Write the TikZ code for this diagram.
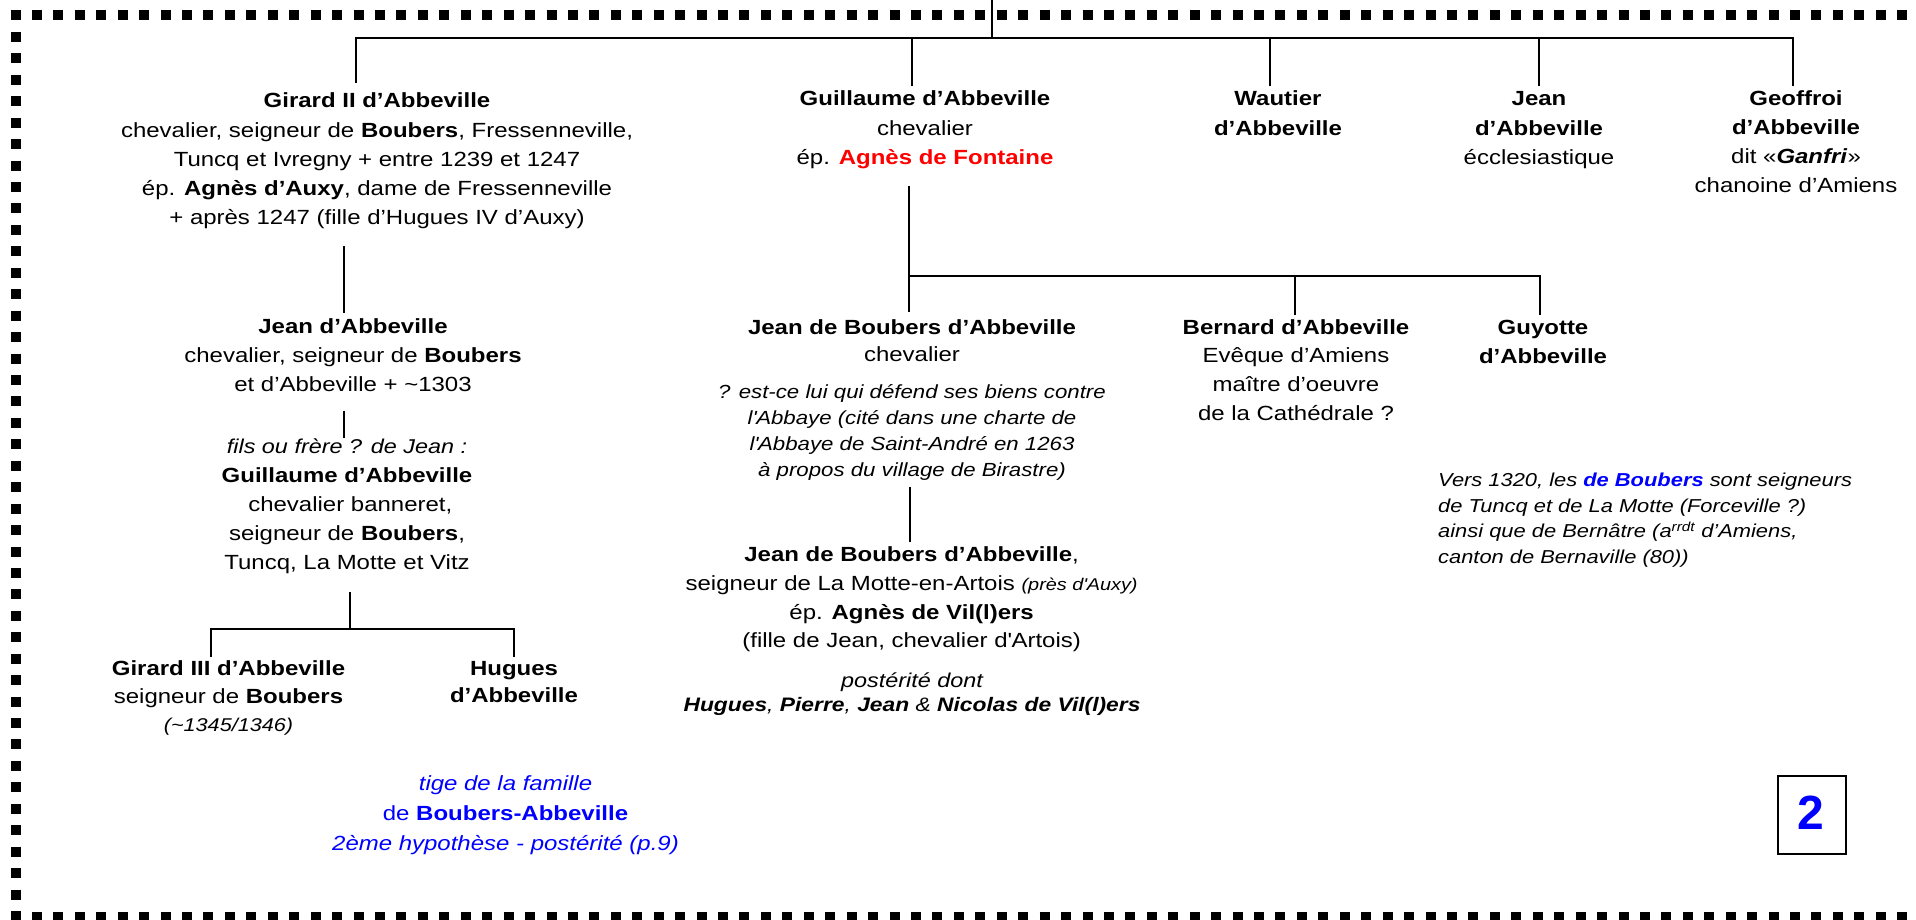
\documentclass[tikz,border=0pt]{standalone}
\usepackage{fontspec}
\setmainfont{Liberation Sans}[FakeStretch=1.17]
\newfontfamily\plainsf{Liberation Sans}
\newcommand\cstack[1]{\vtop{\halign{\hfil##\hfil\cr#1\crcr}}}
\newcommand\lstack[1]{\vtop{\halign{##\hfil\cr#1\crcr}}}
\newcommand\ap{\textquotesingle}
\definecolor{myblue}{RGB}{0,0,255}
\definecolor{myred}{RGB}{255,0,0}
\tikzset{
  txt/.style={inner sep=0pt, anchor=base, font=\fontsize{20.5}{29.2}\selectfont},
  itxt/.style={inner sep=0pt, anchor=base, font=\fontsize{19}{26}\selectfont\itshape},
  conn/.style={line width=2pt, line join=miter, line cap=butt},
  frame/.style={line width=10pt, dash pattern=on 10pt off 11.44pt},
  numbox/.style={draw, line width=2.7pt, minimum width=68pt, minimum height=78pt, inner sep=0pt}
}
\begin{document}
\begin{tikzpicture}[x=1pt,y=-1pt]
\useasboundingbox (0,0) rectangle (1916,920);
\clip (0,0) rectangle (1916,920);
% dotted frame
\draw[frame] (10.5,15.5) -- (1935,15.5);
\draw[frame] (15.5,10.5) -- (15.5,930);
\draw[frame] (10.5,917) -- (1935,917);

% ---------- generation 1 ----------
\node[txt] (g2) at (377,108) {\cstack{\textbf{Girard II d’Abbeville}\cr
chevalier, seigneur de \textbf{Boubers}, Fressenneville,\cr
Tuncq et Ivregny + entre 1239 et 1247\cr
ép. \textbf{Agnès d’Auxy}, dame de Fressenneville\cr
+ après 1247 (fille d’Hugues IV d’Auxy)}};
\node[txt] (gm) at (925,106) {\cstack{\textbf{Guillaume d’Abbeville}\cr
chevalier\cr
ép. \textcolor{myred}{\textbf{Agnès de Fontaine}}}};
\node[txt] (wa) at (1278,106) {\cstack{\textbf{Wautier}\cr\textbf{d’Abbeville}}};
\node[txt] (je) at (1539,106) {\cstack{\textbf{Jean}\cr\textbf{d’Abbeville}\cr écclesiastique}};
\node[txt, font=\fontsize{20.5}{28.7}\selectfont] (ge) at (1796,106) {\cstack{\textbf{Geoffroi}\cr\textbf{d’Abbeville}\cr
dit «\textbf{\textit{Ganfri}}»\cr chanoine d’Amiens}};

% ---------- left branch ----------
\node[txt] (j1) at (353,333) {\cstack{\textbf{Jean d’Abbeville}\cr
chevalier, seigneur de \textbf{Boubers}\cr
et d’Abbeville + \textasciitilde1303}};
\node[itxt, font=\fontsize{20}{26}\selectfont\itshape] (gfq) at (347,453) {fils ou frère ? de Jean :};
\node[txt, font=\fontsize{20.5}{29}\selectfont] (gb) at (347,482.7) {\cstack{\textbf{Guillaume d’Abbeville}\cr
\ chevalier banneret,\cr
seigneur de \textbf{Boubers},\cr
Tuncq, La Motte et Vitz}};
\node[txt, font=\fontsize{20.5}{28}\selectfont] (g3) at (228.5,675) {\cstack{\textbf{Girard III d’Abbeville}\cr
seigneur de \textbf{Boubers}\cr
{\fontsize{18.5}{22}\selectfont\itshape (\textasciitilde1345/1346)}}};
\node[txt, font=\fontsize{20.5}{27.7}\selectfont] (hu) at (514,675) {\cstack{\textbf{Hugues}\cr\textbf{d’Abbeville}}};
\node[txt, font=\fontsize{20.5}{30}\selectfont\color{myblue}] (tige) at (505.5,790) {\cstack{\textit{tige de la famille}\cr
de \textbf{Boubers-Abbeville}\cr
\textit{2ème hypothèse - postérité (p.9)}}};

% ---------- middle branch ----------
\node[txt, font=\fontsize{20.5}{27.7}\selectfont] (jb) at (912,334) {\cstack{\textbf{Jean de Boubers d’Abbeville}\cr chevalier}};
\node[itxt] (jbn) at (912,398.3) {\cstack{? est-ce lui qui défend ses biens contre\cr
l\ap Abbaye (cité dans une charte de\cr
l\ap Abbaye de Saint-André en 1263\cr
à propos du village de Birastre)}};
\node[txt, font=\fontsize{20.5}{28.7}\selectfont] (jb2) at (911.6,561.7) {\cstack{\textbf{Jean de Boubers d’Abbeville},\cr
seigneur de La Motte-en-Artois {\fontsize{17}{20}\selectfont\itshape (près d\ap Auxy)}\cr
ép. \textbf{Agnès de Vil(l)ers}\cr
(fille de Jean, chevalier d\ap Artois)}};
\node[itxt, font=\fontsize{20}{24.4}\selectfont\itshape] (post) at (912,687.3) {\cstack{postérité dont\cr
{\fontsize{19.5}{24}\selectfont\textbf{Hugues}, \textbf{Pierre}, \textbf{Jean} \& \textbf{Nicolas de Vil(l)ers}}}};
\node[txt, font=\fontsize{20.5}{28.9}\selectfont] (be) at (1296,334) {\cstack{\textbf{Bernard d’Abbeville}\cr
Evêque d’Amiens\cr maître d’oeuvre\cr de la Cathédrale ?}};
\node[txt] (gu) at (1543,334) {\cstack{\textbf{Guyotte}\cr\textbf{d’Abbeville}}};

% ---------- note ----------
\node[inner sep=0pt, anchor=base west, font=\fontsize{18.7}{25.5}\selectfont\itshape] (note) at (1438,486.7) {\lstack{Vers 1320, les \textcolor{myblue}{\textbf{de Boubers}} sont seigneurs\cr
de Tuncq et de La Motte (Forceville ?)\cr
ainsi que de Bernâtre (a\textsuperscript{rrdt} d’Amiens,\cr
canton de Bernaville (80))}};

% ---------- page number ----------
\node[numbox] (numbox) at (1812,815) {};
\node[inner sep=0pt, anchor=base, font=\plainsf\bfseries\fontsize{48}{48}\selectfont, text=myblue] (num) at (1811,829) {2};

% ---------- connectors ----------
\coordinate (rootTop) at (992,0);
\coordinate (rootBar) at (992,38);
\coordinate (bG2) at (356,38);   \coordinate (eG2) at (356,83);
\coordinate (bGm) at (912,38);   \coordinate (eGm) at (912,86);
\coordinate (bWa) at (1270,38);  \coordinate (eWa) at (1270,86);
\coordinate (bJe) at (1539,38);  \coordinate (eJe) at (1539,86);
\coordinate (bGe) at (1793,38);  \coordinate (eGe) at (1793,86);
\draw[conn] (rootTop) -- (rootBar);
\draw[conn] (eG2) -- (bG2) -- (bGe) -- (eGe);
\draw[conn] (bGm) -- (eGm);
\draw[conn] (bWa) -- (eWa);
\draw[conn] (bJe) -- (eJe);

\coordinate (sG2) at (344,246); \coordinate (tJ1) at (344,313);
\draw[conn] (sG2) -- (tJ1);
\coordinate (sJ1) at (344,410.7); \coordinate (tGb) at (344,438);
\draw[conn] (sJ1) -- (tGb);
\coordinate (sGb) at (349.5,592); \coordinate (mGb) at (349.5,629);
\coordinate (bG3) at (210.7,629); \coordinate (eG3) at (210.7,657);
\coordinate (bHu) at (514.3,629); \coordinate (eHu) at (514.3,657);
\draw[conn] (sGb) -- (mGb);
\draw[conn] (eG3) -- (bG3) -- (bHu) -- (eHu);

\coordinate (sGm) at (909,186); \coordinate (eJb) at (909,312);
\coordinate (bJb) at (909,276);
\coordinate (bBe) at (1295,276); \coordinate (eBe) at (1295,315);
\coordinate (bGu) at (1540,276); \coordinate (eGu) at (1540,315);
\draw[conn] (sGm) -- (eJb);
\draw[conn] (bJb) -- (bGu) -- (eGu);
\draw[conn] (bBe) -- (eBe);
\coordinate (sJb) at (910,486.7); \coordinate (tJb2) at (910,541.7);
\draw[conn] (sJb) -- (tJb2);
\end{tikzpicture}
\end{document}
